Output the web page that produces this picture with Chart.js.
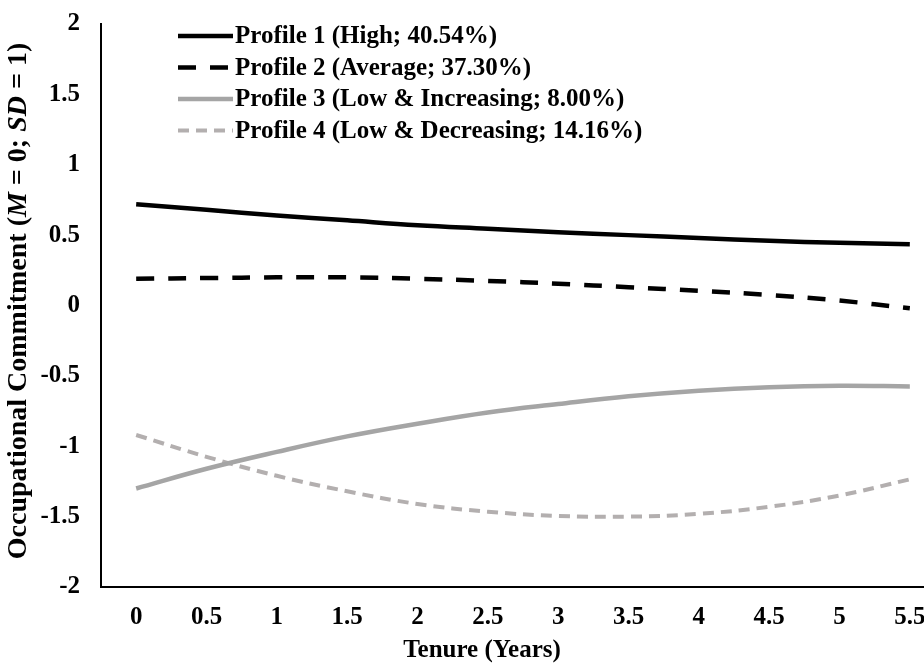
<!DOCTYPE html>
<html>
<head>
<meta charset="utf-8">
<script src="https://cdn.jsdelivr.net/npm/chart.js@4.4.1/dist/chart.umd.min.js"></script>
<style>
html,body{margin:0;padding:0;background:#fff;overflow:hidden;}
#wrap{width:924px;height:670px;overflow:hidden;position:relative;background:#fff;}
canvas{display:block;}
</style>
</head>
<body>
<div id="wrap"><canvas id="c" width="950" height="670"></canvas></div>
<script>
// ---- data ----
const tenure = [0, 0.5, 1, 1.5, 2, 2.5, 3, 3.5, 4, 4.5, 5, 5.5];
const profile1 = [0.72, 0.68, 0.64, 0.605, 0.57, 0.545, 0.52, 0.50, 0.48, 0.46, 0.445, 0.435];
const profile2 = [0.19, 0.195, 0.20, 0.20, 0.19, 0.175, 0.155, 0.13, 0.105, 0.075, 0.035, -0.02];
const profile3 = [-1.30, -1.16, -1.04, -0.93, -0.84, -0.76, -0.70, -0.645, -0.605, -0.58, -0.57, -0.575];
const profile4 = [-0.92, -1.075, -1.21, -1.32, -1.41, -1.465, -1.495, -1.50, -1.48, -1.43, -1.35, -1.235];
const seriesLabels = [
  'Profile 1 (High; 40.54%)',
  'Profile 2 (Average; 37.30%)',
  'Profile 3 (Low & Increasing; 8.00%)',
  'Profile 4 (Low & Decreasing; 14.16%)'
];
const xTicks = [0, 0.5, 1, 1.5, 2, 2.5, 3, 3.5, 4, 4.5, 5, 5.5];
const yTicks = [-2, -1.5, -1, -0.5, 0, 0.5, 1, 1.5, 2];
const xTitle = 'Tenure (Years)';
const yTitleParts = [
  ['Occupational Commitment (', false],
  ['M', true],
  [' = 0; ', false],
  ['SD', true],
  [' = 1)', false]
];

const FAMILY = "'Liberation Serif','Times New Roman',serif";
Chart.defaults.font.family = FAMILY;
Chart.defaults.font.weight = 'bold';
Chart.defaults.color = '#000';

const styles = [
  {color: '#000000', width: 4.5, dash: []},
  {color: '#000000', width: 4.5, dash: [18, 14]},
  {color: '#a5a5a5', width: 4.5, dash: []},
  {color: '#b3afaf', width: 4, dash: [11, 7]}
];
const allSeries = [profile1, profile2, profile3, profile4];

const datasets = allSeries.map((s, i) => ({
  label: seriesLabels[i],
  data: tenure.map((x, j) => ({x: x, y: s[j]})),
  borderColor: styles[i].color,
  borderWidth: styles[i].width,
  borderDash: styles[i].dash,
  borderCapStyle: 'butt',
  pointRadius: 0,
  tension: 0.4,
  fill: false
}));

const decor = {
  id: 'decor',
  afterDraw(chart) {
    const ctx = chart.ctx;
    ctx.save();
    // legend
    const legY = [36, 67.5, 99, 130.5];
    chart.data.datasets.forEach((ds, i) => {
      const y = legY[i];
      ctx.beginPath();
      ctx.strokeStyle = ds.borderColor;
      ctx.lineWidth = ds.borderWidth;
      ctx.setLineDash(ds.borderDash || []);
      ctx.lineCap = 'butt';
      ctx.moveTo(178, y);
      ctx.lineTo(233, y);
      ctx.stroke();
      ctx.setLineDash([]);
      ctx.fillStyle = '#000';
      ctx.font = 'bold 25px ' + FAMILY;
      ctx.textAlign = 'left';
      ctx.textBaseline = 'middle';
      ctx.fillText(ds.label, 235, y + 1);
    });
    // x title
    ctx.font = 'bold 25px ' + FAMILY;
    ctx.textAlign = 'center';
    ctx.textBaseline = 'middle';
    ctx.fillText(xTitle, 482, 651);
    // y title with italic parts
    ctx.translate(19, 301);
    ctx.rotate(-Math.PI / 2);
    const size = 28;
    let total = 0;
    yTitleParts.forEach(p => {
      ctx.font = (p[1] ? 'italic ' : '') + 'bold ' + size + 'px ' + FAMILY;
      total += ctx.measureText(p[0]).width;
    });
    let x = -total / 2;
    ctx.textAlign = 'left';
    yTitleParts.forEach(p => {
      ctx.font = (p[1] ? 'italic ' : '') + 'bold ' + size + 'px ' + FAMILY;
      ctx.fillText(p[0], x, 0);
      x += ctx.measureText(p[0]).width;
    });
    ctx.restore();
  }
};

new Chart(document.getElementById('c'), {
  type: 'line',
  data: {datasets: datasets},
  options: {
    responsive: false,
    animation: false,
    devicePixelRatio: 1,
    layout: {padding: {top: 24, right: 5, left: 0, bottom: 0}},
    plugins: {legend: {display: false}, tooltip: {enabled: false}},
    scales: {
      x: {
        type: 'linear',
        min: -0.25,
        max: 5.75,
        afterBuildTicks: s => { s.ticks = xTicks.map(v => ({value: v})); },
        afterFit: s => { s.height = 83; s.paddingLeft = 0; s.paddingRight = 0; },
        grid: {display: false, drawTicks: false},
        border: {display: true, color: '#000', width: 2},
        ticks: {padding: 16, autoSkip: false, maxRotation: 0, color: '#000',
                font: {size: 25, weight: 'bold'}, callback: v => String(v)}
      },
      y: {
        type: 'linear',
        min: -2,
        max: 2,
        afterBuildTicks: s => { s.ticks = yTicks.map(v => ({value: v})); },
        afterFit: s => { s.width = 101; s.paddingTop = 0; s.paddingBottom = 0; },
        grid: {display: false, drawTicks: false},
        border: {display: true, color: '#000', width: 2},
        ticks: {padding: 21, color: '#000',
                font: {size: 25, weight: 'bold'}, callback: v => String(v)}
      }
    }
  },
  plugins: [decor]
});
</script>
</body>
</html>
